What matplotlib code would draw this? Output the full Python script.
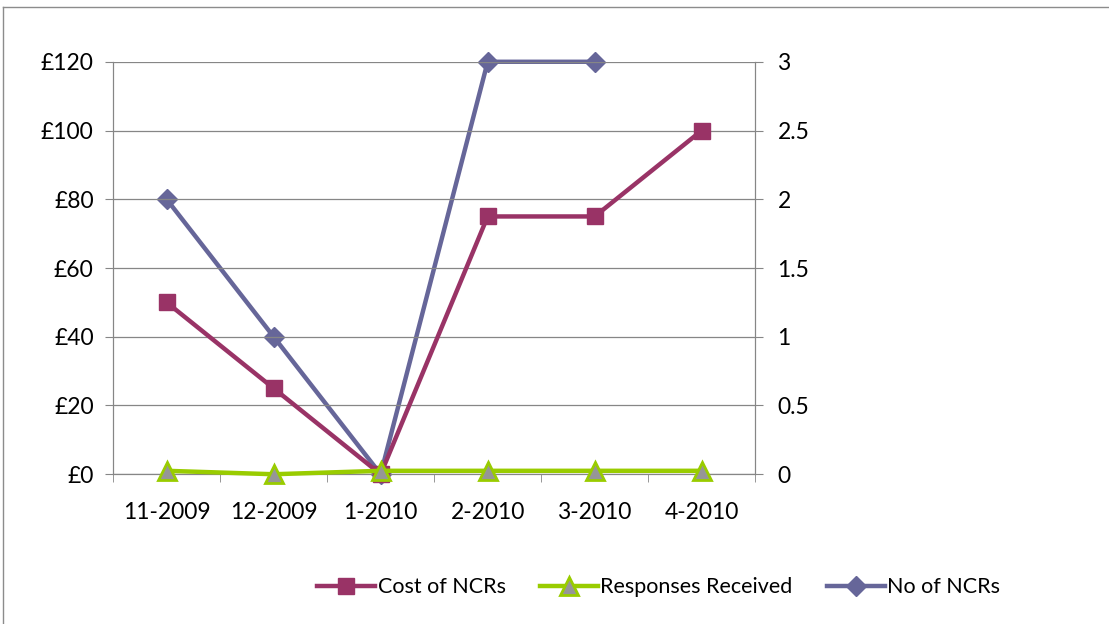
import matplotlib
matplotlib.use("Agg")
import matplotlib.pyplot as plt
from matplotlib.lines import Line2D
import numpy as np

# =========================
# DATA
# =========================
months = ["11-2009", "12-2009", "1-2010", "2-2010", "3-2010", "4-2010"]
cost_ncrs = [50, 25, 0, 75, 75, 100]          # left axis (£)
responses = [1, 0, 1, 1, 1, 1]                # left axis
no_ncrs = [2, 1, 0, 3, 3, np.nan]             # right axis

left_ticks = [0, 20, 40, 60, 80, 100, 120]
right_ticks = [0, 0.5, 1, 1.5, 2, 2.5, 3]

# =========================
# STYLE
# =========================
plt.rcParams["font.family"] = ["Lato", "DejaVu Sans"]
plt.rcParams["font.size"] = 15.5

COST_C = "#993366"
RESP_C = "#99CC00"
RESP_FILL = "#969696"
NO_C = "#666699"
GRID_C = "#868686"

fig = plt.figure(figsize=(11.09, 6.24), dpi=100)
ax = fig.add_axes([0.102, 0.240, 0.579, 0.661])
ax2 = ax.twinx()

x = np.arange(len(months))

ax.plot(x, cost_ncrs, color=COST_C, lw=3.2, marker="s", ms=12,
        label="Cost of NCRs", zorder=3, clip_on=False)
ax.plot(x, responses, color=RESP_C, lw=3.2, marker="^", ms=13,
        mfc=RESP_FILL, mec=RESP_C, mew=2, label="Responses Received",
        zorder=3, clip_on=False)
ax2.plot(x, no_ncrs, color=NO_C, lw=3.2, marker="D", ms=10,
         label="No of NCRs", zorder=3, clip_on=False)

ax.set_xlim(-0.5, len(months) - 0.5)
ax.set_ylim(0, 120)
ax2.set_ylim(0, 3)

ax.set_yticks(left_ticks)
ax.set_yticklabels([f"£{v}" for v in left_ticks])
ax2.set_yticks(right_ticks)
ax2.set_yticklabels([f"{v:g}" for v in right_ticks])

ax.set_xticks(x)
ax.set_xticklabels(months)
ax.set_xticks(np.arange(-0.5, len(months)), minor=True)
ax.tick_params(axis="x", which="major", length=0, pad=20, labelsize=16.5)
ax.tick_params(axis="x", which="minor", length=6, color=GRID_C)
ax.tick_params(axis="y", length=6, color=GRID_C, pad=8, labelsize=16.5)
ax2.tick_params(axis="y", length=6, color=GRID_C, pad=10, labelsize=16.5)

ax.yaxis.grid(True, color=GRID_C, lw=0.9)
ax.set_axisbelow(True)
for a in (ax, ax2):
    a.spines["top"].set_visible(False)
    for s in ("left", "right", "bottom"):
        a.spines[s].set_color(GRID_C)
ax.set_zorder(ax2.get_zorder() + 1)
ax.patch.set_visible(False)

h1, l1 = ax.get_legend_handles_labels()
h2, l2 = ax2.get_legend_handles_labels()
fig.legend(h1 + h2, l1 + l2, loc="center", bbox_to_anchor=(0.594, 0.059),
           ncol=3, frameon=False, handlelength=2.7, handletextpad=0.1,
           columnspacing=1.6)

# chart border
fig.add_artist(Line2D([0.003, 1.0], [0.989, 0.989], transform=fig.transFigure,
                      color="#8c8c8c", lw=1))
fig.add_artist(Line2D([0.003, 0.003], [0.0, 0.989], transform=fig.transFigure,
                      color="#8c8c8c", lw=1))

fig.savefig("out.png", dpi=100)
